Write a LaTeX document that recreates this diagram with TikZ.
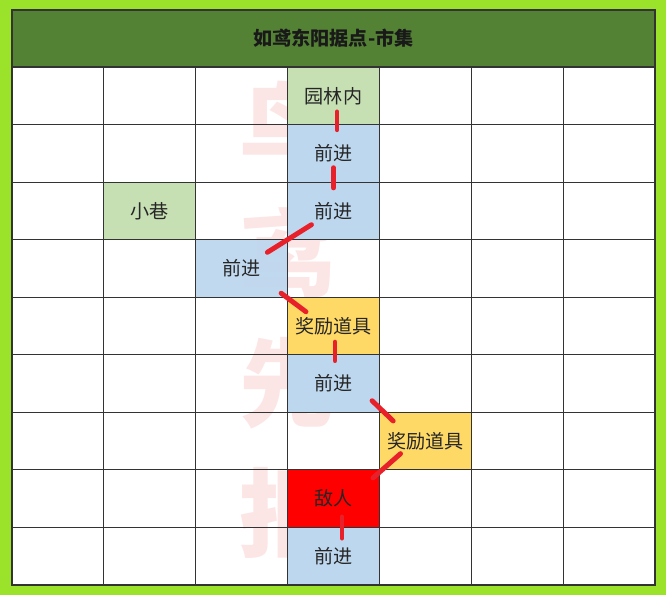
\documentclass[tikz,border=0pt]{standalone}
\usepackage{fontspec}
\newfontfamily\cjk{Noto Sans CJK SC}
\usetikzlibrary{calc}
\definecolor{limeedge}{HTML}{9BE22B}
\definecolor{headgreen}{HTML}{548235}
\definecolor{placegreen}{HTML}{C6E0B4}
\definecolor{stepblue}{HTML}{BDD7EE}
\definecolor{rewardyellow}{HTML}{FFD966}
\definecolor{foered}{HTML}{FF0000}
\definecolor{pathred}{HTML}{E8202A}
\definecolor{markred}{HTML}{F06060}
\tikzset{
	cell/.style={minimum width=2.7557cm, minimum height=1.7267cm, inner sep=0pt, text=black!85, font=\cjk\fontsize{16.3}{19}\selectfont},
	gridline/.style={line width=0.9pt, color=black!80},
	link/.style={line width=4.2pt, color=pathred, line cap=round},
	stamp/.style={text=markred, opacity=0.16, inner sep=0pt, font=\cjk\bfseries\fontsize{82}{90}\selectfont},
}

\begin{document}
\begin{tikzpicture}[x=0.03cm, y=-0.03cm]
			%%%%% START %%%%%
			\def\cw{91.857}
			\def\ch{57.556}
			
			\fill[limeedge] (0, 0) rectangle (666, 595);
			\fill[white] (12, 67) rectangle (655, 585);
			\fill[headgreen] (12, 10) rectangle (655, 67);
			\node[text=black!90, font=\cjk\bfseries\fontsize{16.3}{19}\selectfont] (title) at (333.5, 38.5) {如鸢东阳据点-市集};
			
			% watermark, under the coloured cells
			\node[stamp] (mark1) at (288, 127) {鸟};
			\node[stamp] (mark2) at (288, 252) {鸢};
			\node[stamp] (mark3) at (288, 383) {先};
			\node[stamp] (mark4) at (288, 513) {报};
			
			\node[cell, fill=placegreen] (garden) at (333.5, 95.78) {园林内};
			\node[cell, fill=stepblue] (step1) at (333.5, 153.33) {前进};
			\node[cell, fill=stepblue] (step2) at (333.5, 210.89) {前进};
			\node[cell, fill=placegreen] (alley) at (149.79, 210.89) {小巷};
			\node[cell, fill=stepblue, fill opacity=0.93, text opacity=1] (step3) at (241.64, 268.45) {前进};
			\node[cell, fill=rewardyellow] (reward1) at (333.5, 326.0) {奖励道具};
			\node[cell, fill=stepblue] (step4) at (333.5, 383.56) {前进};
			\node[cell, fill=rewardyellow] (reward2) at (425.36, 441.11) {奖励道具};
			\node[cell, fill=foered] (foe) at (333.5, 498.67) {敌人};
			\node[cell, fill=stepblue] (step5) at (333.5, 556.22) {前进};
			
			\foreach \i in {1,...,6}
				\draw[gridline] ({12+\i*\cw}, 67) -- ({12+\i*\cw}, 585);
			\foreach \j in {1,...,8}
				\draw[gridline] (12, {67+\j*\ch}) -- (655, {67+\j*\ch});
			\draw[gridline] (12, 10) rectangle (655, 585);
			\draw[gridline] (12, 67) -- (655, 67);
			
			\draw[link] ($(garden)!0.28!(step1)+(3.5,0)$) -- ($(garden)!0.59!(step1)+(3.5,0)$);
			\draw[link] ($(step1)!0.25!(step2)$) -- ($(step1)!0.60!(step2)$);
			\draw[link] ($(step2)!0.24!(step3)$) -- ($(step2)!0.72!(step3)$);
			\draw[link] ($(step3)!0.43!(reward1)$) -- ($(step3)!0.70!(reward1)+(0,3)$);
			\draw[link] ($(reward1)!0.28!(step4)+(1.5,0)$) -- ($(reward1)!0.60!(step4)+(1.5,0)$);
			\draw[link] ($(step4)!0.42!(reward2)+(0,-7)$) -- ($(step4)!0.65!(reward2)$);
			\draw[link] ($(reward2)!0.27!(foe)+(0,-3)$) -- ($(reward2)!0.57!(foe)+(0,4)$);
			\draw[link] ($(foe)!0.32!(step5)+(8.5,0)$) -- ($(foe)!0.685!(step5)+(8.5,0)$);
			
			%%%%% END %%%%%
\end{tikzpicture}
\end{document}
